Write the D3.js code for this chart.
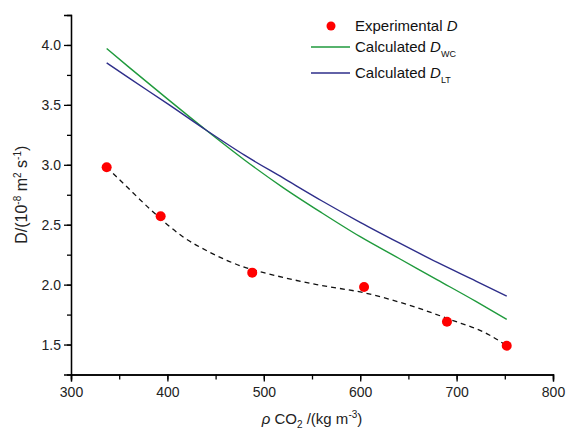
<!DOCTYPE html>
<html>
<head>
<meta charset="utf-8">
<script src="https://cdn.jsdelivr.net/npm/d3@7"></script>
<style>
  body { margin: 0; background: #fff; }
  svg { display: block; font-family: "Liberation Sans", Arial, sans-serif; }
</style>
</head>
<body>
<svg id="chart" width="566" height="432"></svg>
<script>
// experimental points
const expDensity = [337, 393, 488, 604, 690, 752];
const expD = [2.98, 2.57, 2.10, 1.98, 1.69, 1.49];

// dashed guide through the experimental points
const fitDensity = [337, 355, 382, 416, 444, 482, 500, 555, 605, 658, 693, 734, 752];
const fitD = [2.98, 2.84, 2.63, 2.40, 2.27, 2.14, 2.10, 2.00, 1.93, 1.81, 1.71, 1.58, 1.49];

// calculated curves
const calcDensity = [337, 360, 400, 440, 480, 520, 560, 600, 640, 680, 720, 752];
const calcWC = [3.97, 3.815, 3.55, 3.29, 3.04, 2.81, 2.60, 2.40, 2.22, 2.04, 1.86, 1.71];
const calcLT = [3.85, 3.725, 3.51, 3.29, 3.08, 2.89, 2.70, 2.52, 2.35, 2.185, 2.03, 1.905];

const xTicks = [300, 400, 500, 600, 700, 800];
const yTicks = [1.5, 2.0, 2.5, 3.0, 3.5, 4.0];

const svg = d3.select('#chart');
const mLeft = 71, mRight = 553, mTop = 15, mBottom = 374.5;

const x = d3.scaleLinear().domain([300, 800]).range([mLeft, mRight]);
const y = d3.scaleLinear().domain([1.25, 4.25]).range([mBottom, mTop]);

// axes
const xAxis = svg.append('g').attr('transform', 'translate(0,' + mBottom + ')');
xAxis.call(d3.axisBottom(x).tickValues(d3.range(300, 801, 50)).tickSize(5).tickFormat(''));
xAxis.append('g').call(d3.axisBottom(x).tickValues(xTicks).tickSize(7).tickFormat(d3.format('d')));

const yAxis = svg.append('g').attr('transform', 'translate(' + mLeft + ',0)');
yAxis.call(d3.axisLeft(y).tickValues(d3.range(1.5, 4.01, 0.25)).tickSize(4).tickFormat(''));
yAxis.append('g').call(d3.axisLeft(y).tickValues(yTicks).tickSize(7).tickFormat(d3.format('.1f')));

svg.selectAll('.domain').attr('stroke', '#000').attr('stroke-width', 1.3);
svg.selectAll('.tick line').attr('stroke', '#000').attr('stroke-width', 1.3);
svg.selectAll('.tick text').attr('fill', '#222').style('font-size', '14px')
  .style('font-family', '"Liberation Sans", Arial, sans-serif');
xAxis.selectAll('.tick text').attr('dy', '0.9em');

const line = d3.line().x(d => x(d[0])).y(d => y(d[1])).curve(d3.curveMonotoneX);

// calculated curves
svg.append('path')
  .datum(d3.zip(calcDensity, calcWC))
  .attr('d', line)
  .attr('fill', 'none').attr('stroke', '#1f9a3c').attr('stroke-width', 1.4);

svg.append('path')
  .datum(d3.zip(calcDensity, calcLT))
  .attr('d', line)
  .attr('fill', 'none').attr('stroke', '#2e2e8a').attr('stroke-width', 1.4);

// dashed guide
svg.append('path')
  .datum(d3.zip(fitDensity, fitD))
  .attr('d', line)
  .attr('fill', 'none').attr('stroke', '#111').attr('stroke-width', 1.3)
  .attr('stroke-dasharray', '5,4');

// experimental points
svg.selectAll('.pt')
  .data(d3.zip(expDensity, expD))
  .enter().append('circle')
  .attr('class', 'pt')
  .attr('cx', d => x(d[0])).attr('cy', d => y(d[1]))
  .attr('r', 5).attr('fill', '#ff0000');

// legend
const legend = svg.append('g').style('font-size', '15px').attr('fill', '#111');
legend.append('circle').attr('cx', 331).attr('cy', 26).attr('r', 4.5).attr('fill', '#ff0000');
const t1 = legend.append('text').attr('x', 355).attr('y', 31);
t1.append('tspan').text('Experimental ');
t1.append('tspan').attr('font-style', 'italic').text('D');

legend.append('line').attr('x1', 311).attr('x2', 350).attr('y1', 47).attr('y2', 47)
  .attr('stroke', '#1f9a3c').attr('stroke-width', 1.4);
const t2 = legend.append('text').attr('x', 355).attr('y', 52);
t2.append('tspan').text('Calculated ');
t2.append('tspan').attr('font-style', 'italic').text('D');
t2.append('tspan').attr('dy', 5).style('font-size', '9px').text('WC');

legend.append('line').attr('x1', 311).attr('x2', 350).attr('y1', 73).attr('y2', 73)
  .attr('stroke', '#2e2e8a').attr('stroke-width', 1.4);
const t3 = legend.append('text').attr('x', 355).attr('y', 78);
t3.append('tspan').text('Calculated ');
t3.append('tspan').attr('font-style', 'italic').text('D');
t3.append('tspan').attr('dy', 5).style('font-size', '9px').text('LT');

// y axis title
const yt = svg.append('text')
  .attr('transform', 'translate(27,' + ((mTop + mBottom) / 2) + ') rotate(-90)')
  .attr('text-anchor', 'middle').style('font-size', '16px').attr('fill', '#222');
yt.append('tspan').text('D/(10');
yt.append('tspan').attr('dy', -6).style('font-size', '10px').text('-8');
yt.append('tspan').attr('dy', 6).text(' m');
yt.append('tspan').attr('dy', -6).style('font-size', '10px').text('2');
yt.append('tspan').attr('dy', 6).text(' s');
yt.append('tspan').attr('dy', -6).style('font-size', '10px').text('-1');
yt.append('tspan').attr('dy', 6).text(')');

// x axis title
const xt = svg.append('text')
  .attr('x', (mLeft + mRight) / 2).attr('y', 424)
  .attr('text-anchor', 'middle').style('font-size', '15px').attr('fill', '#222');
xt.append('tspan').attr('font-style', 'italic').text('ρ');
xt.append('tspan').text(' CO');
xt.append('tspan').attr('dy', 4).style('font-size', '10px').text('2');
xt.append('tspan').attr('dy', -4).text(' /(kg m');
xt.append('tspan').attr('dy', -6).style('font-size', '10px').text('-3');
xt.append('tspan').attr('dy', 6).text(')');
</script>
</body>
</html>
